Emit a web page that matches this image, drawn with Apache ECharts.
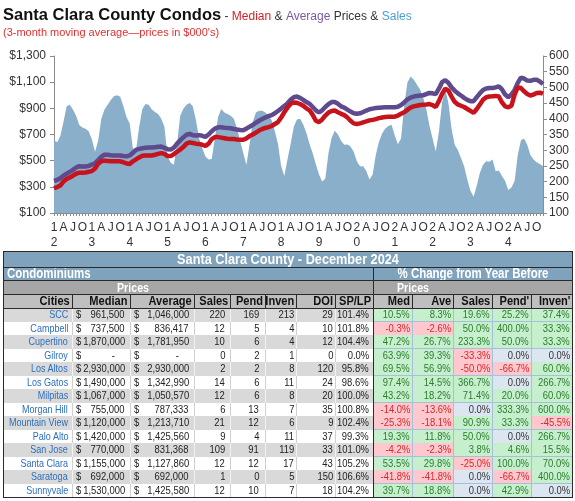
<!DOCTYPE html>
<html>
<head>
<meta charset="utf-8">
<script src="https://cdn.jsdelivr.net/npm/echarts/dist/echarts.min.js"></script>
<style>
  html, body { margin:0; padding:0; background:#fff; }
  body { width:575px; height:501px; overflow:hidden; position:relative; }
  #chart { position:absolute; left:0; top:0; width:575px; height:250px; }
  #tbl { position:absolute; left:0; top:0; width:575px; height:501px; pointer-events:none; }
  #tbl div { position:absolute; box-sizing:border-box; white-space:nowrap; }
  #tbl span { position:absolute; top:0; white-space:nowrap; }
</style>
</head>
<body>
<div id="chart"></div>
<div id="tbl"></div>
<script>
// ---------------- Chart data (3-month moving averages) ----------------
const years = [2012,2013,2014,2015,2016,2017,2018,2019,2020,2021,2022,2023,2024];
const quarterLetters = ['', 'A', 'J', 'O'];   // Jan shows year digits

const medianPrice = [
  290,298,310,340,360,372,385,400,408,408,410,415,
  420,440,478,495,500,498,495,495,495,495,488,478,
  475,495,510,525,538,540,540,540,545,552,558,552,
  535,535,550,568,585,605,630,640,635,630,628,622,
  612,630,665,680,680,676,672,668,665,665,662,660,
  660,670,688,700,715,730,742,750,756,765,780,795,
  830,870,905,935,945,942,933,920,900,885,850,805,
  795,815,845,868,880,883,870,858,848,830,805,785,
  780,785,793,800,808,812,818,825,830,833,835,836,
  836,845,858,870,888,905,915,920,925,928,930,933,
  925,910,955,1010,1050,1035,990,950,930,920,910,895,
  880,865,895,930,965,985,990,992,995,990,945,915,
  908,920,1005,1060,1055,1030,1010,998,1005,1018,1020,1012
];
const averagePrice = [
  345,352,365,385,400,415,430,448,458,455,456,460,
  470,480,505,530,545,545,542,540,540,540,536,533,
  540,560,583,590,595,598,600,600,603,606,608,598,
  588,585,600,630,655,678,698,705,695,692,695,690,
  682,700,725,745,755,756,752,750,748,742,738,735,
  733,745,760,773,790,805,818,830,840,848,862,880,
  898,918,938,965,985,990,980,965,948,935,910,885,
  868,885,910,932,948,948,935,915,905,890,875,862,
  858,862,872,883,893,898,902,905,907,908,908,908,
  908,912,925,945,968,982,990,995,998,1000,1008,1018,
  1015,1008,1050,1100,1115,1095,1060,1035,1015,998,980,965,
  955,955,985,1015,1040,1052,1055,1055,1060,1068,1045,1005,
  985,1005,1040,1095,1135,1128,1112,1110,1118,1118,1105,1085
];
const salesCount3m = [
  332,325,345,390,440,445,430,410,380,372,368,360,
  335,295,330,400,430,445,460,472,475,470,440,405,
  385,306,300,375,431,447,445,430,422,415,400,375,
  280,260,254,320,410,432,445,450,440,395,337,306,
  280,270,272,340,405,431,420,415,410,400,370,330,
  290,254,320,390,420,426,426,420,410,395,360,320,
  250,218,270,320,375,398,400,382,355,320,290,255,
  223,200,210,290,340,362,350,330,317,318,312,295,
  265,249,249,234,207,223,285,327,353,369,377,381,
  348,319,337,441,515,535,525,509,494,468,431,379,
  337,296,358,452,494,452,369,317,301,275,249,207,
  171,152,187,228,254,265,263,270,233,235,218,202,
  173,181,202,285,332,337,317,285,270,262,256,249
];

// ---------------- Table data ----------------
const tableTitle = 'Santa Clara County - December 2024';
const cities = ['SCC','Campbell','Cupertino','Gilroy','Los Altos','Los Gatos','Milpitas','Morgan Hill','Mountain View','Palo Alto','San Jose','Santa Clara','Saratoga','Sunnyvale'];
const medianSold = [961500,737500,1870000,0,2930000,1490000,1067000,755000,1120000,1420000,770000,1155000,692000,1530000];
const averageSold = [1046000,836417,1781950,0,2930000,1342990,1050570,787333,1213710,1425560,831368,1127860,692000,1425580];
const salesNow = [220,12,10,0,2,14,12,6,21,9,109,12,1,12];
const pendNow = [169,5,6,2,2,6,6,13,12,4,91,12,0,10];
const invenNow = [213,4,4,1,8,11,8,7,6,11,119,17,5,7];
const doiNow = [29,10,12,0,120,24,20,35,9,37,33,43,150,18];
const spLpNow = [101.4,101.8,104.4,0.0,95.8,98.6,100.0,100.8,102.4,99.3,101.0,105.2,106.6,104.2];
const chgMed = [10.5,-0.3,47.2,63.9,69.5,97.4,43.2,-14.0,-25.3,19.3,-4.2,53.5,-41.8,39.7];
const chgAve = [8.3,-2.6,26.7,39.3,56.9,14.5,18.2,-13.6,-18.1,11.8,-2.3,29.8,-41.8,18.8];
const chgSales = [19.6,50.0,233.3,-33.3,-50.0,366.7,71.4,0.0,90.9,50.0,3.8,-25.0,0.0,0.0];
const chgPend = [25.2,400.0,50.0,0.0,-66.7,0.0,20.0,333.3,33.3,0.0,4.6,100.0,-66.7,42.9];
const chgInven = [37.4,33.3,33.3,0.0,60.0,266.7,60.0,600.0,-45.5,266.7,15.5,70.0,400.0,0.0];
const leftHeaders = ['Cities','Median','Average','Sales','Pend','Inven','DOI','SP/LP'];
const rightHeaders = ['Med','Ave','Sales',"Pend'","Inven'"];

// ---------------- Chart ----------------
const months = [];
years.forEach(y => { for (let m = 1; m <= 12; m++) months.push(y + '-' + (m < 10 ? '0' : '') + m); });

const SANS = '"Liberation Sans", Arial, sans-serif';
const chart = echarts.init(document.getElementById('chart'));
chart.setOption({
  animation: false,
  title: {
    left: 3, top: 5, padding: 0,
    text: '{a|Santa Clara County Condos}{b| - }{r|Median}{b| & }{p|Average}{b| Prices & }{s|Sales}',
    textStyle: {
      rich: {
        a: { fontFamily: SANS, fontWeight: 'bold', fontSize: 16.5, color: '#111', lineHeight: 20 },
        b: { fontFamily: SANS, fontWeight: 'normal', fontSize: 12, color: '#333', lineHeight: 20, padding: [3,0,0,0] },
        r: { fontFamily: SANS, fontWeight: 'normal', fontSize: 12, color: '#D0202A', lineHeight: 20, padding: [3,0,0,0] },
        p: { fontFamily: SANS, fontWeight: 'normal', fontSize: 12, color: '#7A5AA8', lineHeight: 20, padding: [3,0,0,0] },
        s: { fontFamily: SANS, fontWeight: 'normal', fontSize: 12, color: '#4A9FD8', lineHeight: 20, padding: [3,0,0,0] }
      }
    },
    subtext: "(3-month moving average\u2014prices in $000's)",
    subtextStyle: { fontFamily: SANS, fontSize: 11, color: '#E0302E', lineHeight: 13 },
    itemGap: 4
  },
  grid: { left: 54, right: 32, top: 56, bottom: 34 },
  xAxis: {
    type: 'category',
    data: months,
    boundaryGap: false,
    axisLine: { lineStyle: { color: '#8c8c8c', width: 1 } },
    axisTick: { show: true, interval: 0, length: 3, lineStyle: { color: '#8c8c8c' } },
    axisLabel: {
      interval: function (i) { return i % 3 === 0; },
      formatter: function (v) {
        const m = parseInt(v.slice(5), 10);
        if (m === 1) { const yy = v.slice(2, 4); return yy[0] + '\n' + yy[1]; }
        return quarterLetters[(m - 1) / 3];
      },
      fontFamily: SANS, fontSize: 12, color: '#333', lineHeight: 15, margin: 7
    },
    splitLine: { show: false }
  },
  yAxis: [
    {
      type: 'value', min: 100, max: 1300, interval: 200, position: 'left',
      axisLine: { show: true, lineStyle: { color: '#8c8c8c' } },
      axisTick: { show: true, length: 4, lineStyle: { color: '#8c8c8c' } },
      axisLabel: { formatter: v => '$' + v.toLocaleString('en-US'), fontFamily: SANS, fontSize: 12, color: '#333', margin: 8 },
      splitLine: { show: false }
    },
    {
      type: 'value', min: 100, max: 600, interval: 50, position: 'right',
      axisLine: { show: true, lineStyle: { color: '#8c8c8c' } },
      axisTick: { show: true, length: 4, lineStyle: { color: '#8c8c8c' } },
      axisLabel: { fontFamily: SANS, fontSize: 12, color: '#333', margin: 6 },
      splitLine: { show: false }
    }
  ],
  series: [
    {
      name: 'Sales', type: 'line', yAxisIndex: 1, data: salesCount3m,
      symbol: 'none', lineStyle: { width: 0 },
      areaStyle: { color: '#8AAFCB', opacity: 1, origin: 'start' }, z: 1
    },
    {
      name: 'Average', type: 'line', yAxisIndex: 0, data: averagePrice,
      symbol: 'none', lineStyle: { color: '#5E4A8C', width: 4.5 }, z: 3
    },
    {
      name: 'Median', type: 'line', yAxisIndex: 0, data: medianPrice,
      symbol: 'none', lineStyle: { color: '#C8121C', width: 4.5 }, z: 4
    }
  ]
});

// ---------------- Table ----------------
const FONT = '"Liberation Sans",Arial,sans-serif';
const SX = 0.82; // condensed (Arial Narrow-like) rendering
const T = document.getElementById('tbl');
const colX = [3,72,130,194,230,265,296,335,373,412,453,492,531,572];
const rowY = [251,267,280.5,294,308];
const dataH = 13.5;
const BLUE = '#7FA2BD', GRAY3 = '#A6A6A6', GRAY4 = '#BFBFBF', ROWG = '#D9D9D9';

function box(x1, y1, x2, y2, css, text, align, pad, tcss) {
  const d = document.createElement('div');
  const h = y2 - y1;
  d.style.cssText = 'left:' + x1 + 'px;top:' + y1 + 'px;width:' + (x2 - x1) + 'px;height:' + h +
    'px;font-family:' + FONT + ';' + (css || '');
  if (text !== undefined) {
    const s = document.createElement('span');
    s.textContent = text;
    let c = 'line-height:' + h + 'px;height:' + h + 'px;' + (tcss || '');
    pad = pad || 0;
    if (align === 'left') c += 'left:' + pad + 'px;transform:scaleX(' + SX + ');transform-origin:0 50%;';
    else if (align === 'center') c += 'left:50%;transform:translateX(-50%) scaleX(' + SX + ');transform-origin:50% 50%;';
    else c += 'right:' + pad + 'px;transform:scaleX(' + SX + ');transform-origin:100% 50%;';
    s.style.cssText = c;
    d.appendChild(s);
  }
  T.appendChild(d);
  return d;
}
function hline(x1, x2, y, c) { box(x1, y - 0.5, x2, y + 0.5, 'background:' + c + ';'); }
function vline(x, y1, y2, c) { box(x - 0.5, y1, x + 0.5, y2, 'background:' + c + ';'); }

const L = colX[0], R = colX[13], MID = colX[8];
const WB = 'color:#fff;font-weight:bold;';
// Row 1: title
box(L, rowY[0], R, rowY[1], 'background:' + BLUE + ';', tableTitle, 'center', 0, WB + 'font-size:15.5px;');
// Row 2
box(L, rowY[1], MID, rowY[2], 'background:' + BLUE + ';', 'Condominiums', 'left', 4, WB + 'font-size:14px;');
box(MID, rowY[1], R, rowY[2], 'background:' + BLUE + ';', '% Change from Year Before', 'center', 0, WB + 'font-size:14px;');
// Row 3
box(L, rowY[2], MID, rowY[3], 'background:' + GRAY3 + ';');
box(MID, rowY[2], R, rowY[3], 'background:' + GRAY3 + ';');
box(colX[1], rowY[2], colX[3], rowY[3], '', 'Prices', 'center', 0, WB + 'font-size:13px;');
box(colX[8], rowY[2], colX[10], rowY[3], '', 'Prices', 'center', 0, WB + 'font-size:13px;');
// Row 4 headers
leftHeaders.concat(rightHeaders).forEach((h, c) => {
  box(colX[c], rowY[3], colX[c + 1], rowY[4], 'background:' + GRAY4 + ';', h, 'right', 2, 'color:#111;font-weight:bold;font-size:13.5px;');
});

// Data rows
const fmtMoney = v => v.toLocaleString('en-US');
const fmtPct = v => v.toFixed(1) + '%';
const DT = 'font-size:11.5px;color:#222;';
cities.forEach((city, i) => {
  const y1 = rowY[4] + i * dataH, y2 = y1 + dataH;
  const bg = (i % 2 === 0) ? ROWG : '#FFFFFF';
  box(L, y1, MID, y2, 'background:' + bg + ';');
  box(colX[0], y1, colX[1], y2, '', city, 'right', 4, 'font-size:11px;color:#2C6FBF;');
  [[medianSold[i], 1], [averageSold[i], 2]].forEach(([v, c]) => {
    box(colX[c], y1, colX[c + 1], y2, '', '$', 'left', 4, DT);
    box(colX[c], y1, colX[c + 1], y2, '', v === 0 ? '-' : fmtMoney(v), 'right', v === 0 ? 15 : 5, DT);
  });
  box(colX[3], y1, colX[4], y2, '', String(salesNow[i]), 'right', 5, DT);
  box(colX[4], y1, colX[5], y2, '', String(pendNow[i]), 'right', 6, DT);
  box(colX[5], y1, colX[6], y2, '', String(invenNow[i]), 'right', 2, DT);
  box(colX[6], y1, colX[7], y2, '', String(doiNow[i]), 'right', 2, DT);
  box(colX[7], y1, colX[8], y2, '', fmtPct(spLpNow[i]), 'right', 4, DT);
  [chgMed, chgAve, chgSales, chgPend, chgInven].forEach((arr, k) => {
    const v = arr[i];
    let fill, col;
    if (v > 0) { fill = '#C6EFCE'; col = '#2A7D2A'; }
    else if (v < 0) { fill = '#FFC7CE'; col = '#D22A2A'; }
    else { fill = '#DCE6F1'; col = '#333'; }
    box(colX[8 + k], y1, colX[9 + k], y2, 'background:' + fill + ';', fmtPct(v), 'right', 2, 'font-size:11.5px;color:' + col + ';');
  });
  hline(MID, R, y2, '#A7C0DA');
  for (let c = 1; c < 8; c++) vline(colX[c], y1, y2, (i % 2 === 0) ? '#F2F2F2' : '#CFCFCF');
  for (let c = 9; c < 13; c++) vline(colX[c], y1, y2, '#A7C0DA');
});

// Dark structural lines
const DARK = '#2a2a2a';
const BOT = rowY[4] + cities.length * dataH;
hline(L, R, rowY[1], DARK);
hline(L, R, rowY[2], DARK);
hline(L, R, rowY[3], DARK);
hline(L, R, rowY[4], DARK);
vline(MID, rowY[1], BOT, DARK);
for (let c = 1; c < 13; c++) vline(colX[c], rowY[3], rowY[4], DARK);
box(L - 0.5, rowY[0] - 0.5, R + 0.5, BOT + 0.5, 'border:1px solid ' + DARK + ';background:transparent;');
</script>
</body>
</html>
